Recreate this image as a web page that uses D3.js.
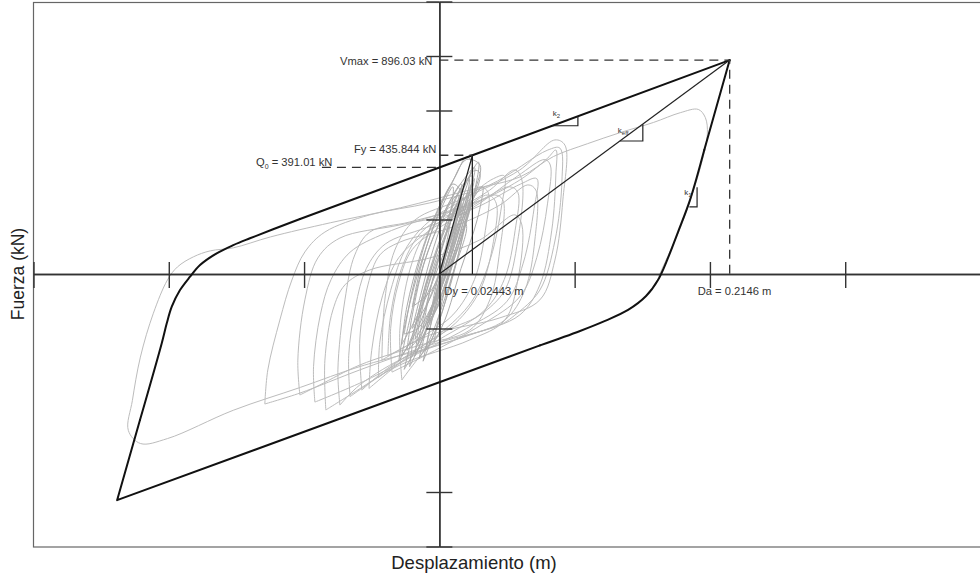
<!DOCTYPE html>
<html>
<head>
<meta charset="utf-8">
<script src="https://cdn.jsdelivr.net/npm/d3@7"></script>
<style>
body{margin:0;background:#fff;}
svg{display:block;font-family:"Liberation Sans",Arial,sans-serif;}
.gray-loop{fill:none;stroke:#bcbcbc;stroke-width:1;}
.gray-core{fill:none;stroke:#ababab;stroke-width:1;}
.envelope{fill:none;stroke:#111;stroke-width:2;stroke-linejoin:round;stroke-linecap:round;}
.thin-line{fill:none;stroke:#222;stroke-width:1.2;}
.dash-line{fill:none;stroke:#333;stroke-width:1.3;stroke-dasharray:9,6;}
.cross-axis path,.cross-axis line{stroke:#333;stroke-width:1.4;}
.note{fill:#333;font-size:11.2px;}
.klabel{fill:#333;font-size:8px;}
.axis-title{fill:#222;font-size:17.5px;}
</style>
</head>
<body>
<div class="hyst-wrapper"></div>
<script>

// axis ticks (unlabelled in the figure)
const xTicks = [-0.3, -0.2, -0.1, 0.1, 0.2, 0.3, 0.4]
const yTicks = [-1000, -800, -200, 200, 600, 800, 1000]

// annotated values
const Dy = 0.02443
const Da = 0.2146
const Q0 = 391.01
const Fy = 435.844
const Vmax = 896.03
// height of the peak as drawn (the sketch is not to scale at the top)
const peakDrawn = 785

// bilinear envelope (black), [displacement m, force kN]
const envUpper = [[0.2146, 785], [0, 391], [-0.1030, 202]]
const envLeftCorner = [[-0.1030, 202], [-0.1400, 131], [-0.1523, 106], [-0.1646, 76], [-0.1769, 33], [-0.1843, -10], [-0.1917, -59], [-0.1978, -120], [-0.2015, -181], [-0.2052, -254], [-0.2213, -536]]
const envLower = [[-0.2213, -536], [-0.2382, -830], [0.0744, -262]]
const envRightCorner = [[0.0744, -262], [0.1040, -209], [0.1225, -172], [0.1395, -132], [0.1528, -81], [0.1616, -22], [0.1690, 59], [0.1764, 154], [0.1853, 272], [0.1958, 455]]
const envRise = [[0.1958, 455], [0.2146, 785]]

// slope triangles [d, f]
const triK2 = [[0.0831, 544], [0.1024, 544], [0.1024, 579]]
const triKeff = [[0.1334, 488], [0.1504, 488], [0.1504, 550]]
const triK1 = [[0.1848, 246], [0.1905, 246], [0.1905, 318]]

// recorded hysteresis loops (grey), [displacement m, force kN]
const loopA = [[-0.0140,-280],[-0.0584,-339],[-0.1027,-416],[-0.1523,-500],[-0.2010,-604],[-0.2210,-622],[-0.2299,-574],[-0.2269,-464],[-0.2210,-305],[-0.2114,-144],[-0.2010,-22],[-0.1936,26],[-0.1818,63],[-0.1693,85],[-0.1523,96],[-0.1249,136],[-0.0806,188],[-0.0288,243],[0.0229,309],[0.0599,357],[0.0843,431],[0.1094,478],[0.1338,519],[0.1582,556],[0.1781,592],[0.1914,604],[0.1966,574],[0.1981,512],[0.1929,390],[0.1855,272],[0.1781,169],[0.1693,70],[0.1620,-10]]
const loopB = [[-0.1290,-477],[-0.1268,-352],[-0.1179,-169],[-0.1090,-22],[-0.0994,81],[-0.0846,154],[-0.0514,217],[-0.0070,261],[0.0373,327],[0.0802,455],[0.0891,462],[0.0906,341],[0.0854,121],[0.0743,-59],[0.0558,-151],[0.0447,-187],[-0.0070,-261],[-0.0588,-352],[-0.1031,-437],[-0.1290,-477]]
const loopM1 = [[-0.0735,-481],[-0.0750,-352],[-0.0698,-95],[-0.0625,70],[-0.0514,154],[-0.0218,191],[0.0225,253],[0.0595,345],[0.0802,426],[0.0861,455],[0.0861,363],[0.0831,161],[0.0743,-40],[0.0595,-150],[0.0225,-224],[-0.0218,-297],[-0.0588,-407],[-0.0735,-481]]
const loopM2 = [[-0.1031,-444],[-0.1046,-316],[-0.0994,-95],[-0.0898,59],[-0.0735,132],[-0.0292,180],[0.0152,228],[0.0410,290],[0.0469,272],[0.0447,88],[0.0373,-95],[0.0225,-206],[-0.0144,-261],[-0.0588,-334],[-0.0883,-407],[-0.1031,-444]]
const loopM3 = [[-0.0573,-426],[-0.0588,-242],[-0.0528,-40],[-0.0440,70],[-0.0292,117],[0.0078,169],[0.0447,253],[0.0654,327],[0.0713,308],[0.0706,125],[0.0632,-59],[0.0484,-169],[0.0152,-235],[-0.0292,-316],[-0.0573,-426]]
const loopM4 = [[-0.0425,-316],[-0.0403,-95],[-0.0329,88],[-0.0181,198],[0.0152,272],[0.0595,382],[0.0854,492],[0.0928,473],[0.0913,272],[0.0854,51],[0.0743,-95],[0.0447,-161],[-0.0070,-224],[-0.0425,-316]]
const loopM5 = [[-0.0839,-499],[-0.0846,-316],[-0.0787,-132],[-0.0698,-40],[-0.0514,15],[-0.0070,59],[0.0299,125],[0.0558,217],[0.0610,180],[0.0580,-22],[0.0484,-169],[0.0225,-242],[-0.0292,-334],[-0.0661,-444],[-0.0839,-499]]
const loopM6 = [[-0.0277,-389],[-0.0292,-206],[-0.0218,15],[-0.0107,143],[0.0078,217],[0.0373,308],[0.0558,382],[0.0610,345],[0.0580,125],[0.0484,-59],[0.0299,-151],[0.0004,-224],[-0.0277,-389]]
const mid1 = [[-0.045,-380],[-0.044,-250],[-0.036,-60],[-0.024,100],[-0.006,200],[0.020,280],[0.040,350],[0.048,360],[0.046,250],[0.038,60],[0.024,-100],[0.000,-220],[-0.030,-320],[-0.045,-380]]
const mid2 = [[-0.038,-300],[-0.036,-150],[-0.028,20],[-0.014,150],[0.008,230],[0.030,320],[0.036,300],[0.034,160],[0.026,-20],[0.010,-150],[-0.016,-240],[-0.038,-300]]
const mid3 = [[-0.052,-420],[-0.050,-280],[-0.042,-80],[-0.030,60],[-0.010,150],[0.016,230],[0.036,290],[0.042,260],[0.040,120],[0.030,-60],[0.012,-180],[-0.020,-290],[-0.052,-420]]
const extra1 = [[-0.066,-450],[-0.067,-300],[-0.062,-120],[-0.054,20],[-0.040,110],[-0.010,170],[0.030,250],[0.060,330],[0.072,350],[0.070,240],[0.062,40],[0.050,-100],[0.020,-200],[-0.030,-330],[-0.066,-450]]
const extra2 = [[-0.092,-470],[-0.093,-340],[-0.088,-150],[-0.080,-20],[-0.066,80],[-0.040,150],[0.000,220],[0.030,270],[0.052,320],[0.058,300],[0.056,160],[0.048,-20],[0.034,-130],[0.000,-240],[-0.050,-380],[-0.092,-470]]
const extra3 = [[-0.035,-360],[-0.036,-200],[-0.030,-30],[-0.020,90],[0.000,170],[0.030,260],[0.058,360],[0.078,420],[0.082,400],[0.080,260],[0.072,60],[0.060,-80],[0.030,-190],[-0.035,-360]]

const core1 = [[-0.024,-280],[-0.020,-150],[-0.010,60],[0.006,250],[0.020,360],[0.026,390],[0.022,290],[0.010,90],[-0.004,-110],[-0.016,-240],[-0.024,-280]]
const core2 = [[-0.018,-240],[-0.012,-90],[0.000,110],[0.014,300],[0.022,350],[0.017,220],[0.004,20],[-0.010,-170],[-0.018,-240]]
const core3 = [[-0.028,-300],[-0.022,-170],[-0.012,30],[0.004,230],[0.016,330],[0.012,180],[-0.002,-20],[-0.018,-220],[-0.028,-300]]
const core4 = [[-0.012,-200],[-0.006,-40],[0.006,160],[0.018,320],[0.029,410],[0.024,260],[0.012,70],[0.000,-110],[-0.012,-200]]
const core5 = [[-0.020,-120],[-0.014,20],[-0.004,180],[0.010,330],[0.016,300],[0.008,120],[-0.006,-60],[-0.020,-120]]
const core6 = [[-0.010,-280],[-0.004,-130],[0.006,60],[0.016,200],[0.020,180],[0.010,0],[-0.002,-200],[-0.010,-280]]
const core7 = [[-0.026,-220],[-0.020,-60],[-0.008,150],[0.008,320],[0.020,420],[0.030,400],[0.026,300],[0.014,120],[-0.002,-80],[-0.016,-200],[-0.026,-220]]
const core8 = [[-0.015,-310],[-0.008,-170],[0.002,10],[0.012,190],[0.022,270],[0.016,110],[0.004,-90],[-0.008,-250],[-0.015,-310]]
const core9 = [[-0.006,-150],[0.000,-20],[0.008,120],[0.016,260],[0.012,250],[0.004,80],[-0.004,-80],[-0.006,-150]]
const core10 = [[-0.030,-320],[-0.026,-200],[-0.016,0],[-0.002,200],[0.010,320],[0.006,170],[-0.008,-40],[-0.022,-250],[-0.030,-320]]
const core11 = [[-0.004,-250],[0.002,-100],[0.012,90],[0.022,250],[0.032,320],[0.028,200],[0.016,20],[0.004,-170],[-0.004,-250]]
const core12 = [[-0.022,-340],[-0.018,-200],[-0.008,0],[0.006,200],[0.018,330],[0.024,360],[0.018,220],[0.006,20],[-0.008,-190],[-0.022,-340]]
const core13 = [[-0.016,-260],[-0.010,-120],[0.000,60],[0.012,240],[0.026,380],[0.030,370],[0.022,230],[0.010,40],[-0.004,-150],[-0.016,-260]]
const core14 = [[-0.026,-350],[-0.020,-230],[-0.010,-40],[0.004,160],[0.014,260],[0.010,120],[-0.004,-100],[-0.018,-280],[-0.026,-350]]
const core15 = [[-0.008,-180],[-0.002,-60],[0.006,90],[0.016,240],[0.024,330],[0.020,200],[0.008,20],[-0.002,-120],[-0.008,-180]]
const core16 = [[-0.020,-200],[-0.014,-80],[-0.004,100],[0.008,260],[0.014,290],[0.008,130],[-0.006,-80],[-0.020,-200]]
const core17 = [[-0.012,-320],[-0.006,-180],[0.004,-10],[0.014,160],[0.020,230],[0.014,70],[0.002,-140],[-0.012,-320]]
const core18 = [[-0.028,-260],[-0.024,-120],[-0.014,70],[0.000,250],[0.012,360],[0.020,430],[0.024,410],[0.016,260],[0.002,60],[-0.014,-130],[-0.028,-260]]
const core19 = [[-0.002,-100],[0.004,20],[0.012,150],[0.022,300],[0.026,350],[0.020,230],[0.010,60],[0.000,-70],[-0.002,-100]]
const core20 = [[-0.018,-300],[-0.014,-160],[-0.004,30],[0.010,210],[0.018,280],[0.012,150],[0.000,-50],[-0.012,-230],[-0.018,-300]]

const outerLoops = [loopA, loopB, loopM1, loopM2, loopM3, loopM4, loopM5, loopM6, mid1, mid2, mid3, extra1, extra2, extra3]
const coreLoops = [core1, core2, core3, core4, core5, core6, core7, core8, core9, core10, core11, core12, core13, core14, core15, core16, core17, core18, core19, core20]

const width = 980
const height = 581

const chart = d3.select('.hyst-wrapper')
.append('svg')
.attr('width', width)
.attr('height', height)

const xScale = d3.scaleLinear()
.domain([-0.3, 0.4])
.range([33.5, 980.5])

const yScale = d3.scaleLinear()
.domain([-1000, 1000])
.range([546.5, 1.5])

const x0 = xScale(0)
const y0 = yScale(0)

// frame
chart.append('rect')
.attr('x', 33.5)
.attr('y', 2.5)
.attr('width', 960)
.attr('height', 544.5)
.attr('fill', 'none')
.attr('stroke', '#666')
.attr('stroke-width', 1.2)

const curved = d3.line()
.curve(d3.curveCatmullRom.alpha(0.5))
.x(d => xScale(d[0]))
.y(d => yScale(d[1]))

const straight = d3.line()
.x(d => xScale(d[0]))
.y(d => yScale(d[1]))

const grays = chart.append('g')

grays.selectAll('.gray-loop')
.data(outerLoops)
.join('path')
.attr('class', 'gray-loop')
.attr('d', d => curved(d))

grays.selectAll('.gray-core')
.data(coreLoops)
.join('path')
.attr('class', 'gray-core')
.attr('d', d => curved(d))

// cross shaped axes through the origin
const axis = chart.append('g')

axis.append('g')
.attr('class', 'cross-axis')
.attr('transform', `translate(0,${y0})`)
.call(d3.axisBottom(xScale).tickValues(xTicks).tickSize(14).tickSizeOuter(0).tickFormat(''))

axis.append('g')
.attr('class', 'cross-axis')
.attr('transform', `translate(0,${y0})`)
.call(d3.axisTop(xScale).tickValues(xTicks).tickSize(12).tickSizeOuter(0).tickFormat(''))

axis.append('g')
.attr('class', 'cross-axis')
.attr('transform', `translate(${x0},0)`)
.call(d3.axisLeft(yScale).tickValues(yTicks).tickSize(13).tickSizeOuter(0).tickFormat(''))

axis.append('g')
.attr('class', 'cross-axis')
.attr('transform', `translate(${x0},0)`)
.call(d3.axisRight(yScale).tickValues(yTicks).tickSize(13).tickSizeOuter(0).tickFormat(''))

// envelope: straight edges plus rounded unloading corners
const env = chart.append('g')
env.append('path').attr('class', 'envelope').attr('d', straight(envUpper))
env.append('path').attr('class', 'envelope').attr('d', curved(envLeftCorner))
env.append('path').attr('class', 'envelope').attr('d', straight(envLower))
env.append('path').attr('class', 'envelope').attr('d', curved(envRightCorner))
env.append('path').attr('class', 'envelope').attr('d', straight(envRise))

// stiffness lines
const thin = chart.append('g')
thin.append('path').attr('class', 'thin-line').attr('d', straight([[0, 0], [Da, peakDrawn]]))
thin.append('path').attr('class', 'thin-line').attr('d', straight([[0, 0], [Dy, Fy], [Dy, 0]]))

;[triK2, triKeff, triK1].forEach(t => {
	thin.append('path')
	.attr('class', 'thin-line')
	.attr('d', straight(t))
})

// dashed guides
const dashes = chart.append('g')
dashes.append('path').attr('class', 'dash-line').attr('d', straight([[0, peakDrawn], [Da, peakDrawn], [Da, 0]]))
dashes.append('path').attr('class', 'dash-line').attr('d', straight([[0, Fy], [Dy, Fy]]))
dashes.append('path').attr('class', 'dash-line').attr('d', straight([[-0.0868, Q0], [0, Q0]]))

// annotations
const notes = chart.append('g')

notes.append('text')
.attr('class', 'note')
.attr('x', x0 - 7)
.attr('y', yScale(peakDrawn) + 5)
.attr('text-anchor', 'end')
.text(`Vmax = ${Vmax.toFixed(2)} kN`)

notes.append('text')
.attr('class', 'note')
.attr('x', x0 - 3)
.attr('y', yScale(Fy) - 2)
.attr('text-anchor', 'end')
.text(`Fy = ${Fy.toFixed(3)} kN`)

const q0Text = notes.append('text')
.attr('class', 'note')
.attr('x', 256)
.attr('y', yScale(Q0) - 1)
q0Text.append('tspan').text('Q')
q0Text.append('tspan').attr('dy', 3).style('font-size', '7px').text('0')
q0Text.append('tspan').attr('dy', -3).text(` = ${Q0.toFixed(2)} kN`)

notes.append('text')
.attr('class', 'note')
.attr('x', x0 + 5)
.attr('y', y0 + 21)
.text(`Dy = ${Dy} m`)

notes.append('text')
.attr('class', 'note')
.attr('x', xScale(Da) - 32)
.attr('y', y0 + 21)
.text(`Da = ${Da} m`)

const kLabel = (pos, sub, dx, dy) => {
	const t = notes.append('text')
	.attr('class', 'klabel')
	.attr('x', xScale(pos[0]) + dx)
	.attr('y', yScale(pos[1]) + dy)
	t.append('tspan').text('k')
	t.append('tspan').attr('dy', 2).style('font-size', '6px').text(sub)
}

kLabel(triK2[0], '2', 1, -10)
kLabel(triKeff[0], 'eff', -2, -8)
kLabel(triK1[0], '1', -5, -12)

// axis titles
chart.append('text')
.attr('class', 'axis-title')
.attr('transform', `translate(24,${y0}) rotate(-90)`)
.attr('text-anchor', 'middle')
.text('Fuerza (kN)')

chart.append('text')
.attr('class', 'axis-title')
.attr('x', 474)
.attr('y', 569)
.attr('text-anchor', 'middle')
.style('font-size', '18.5px')
.text('Desplazamiento (m)')

</script>
</body>
</html>
